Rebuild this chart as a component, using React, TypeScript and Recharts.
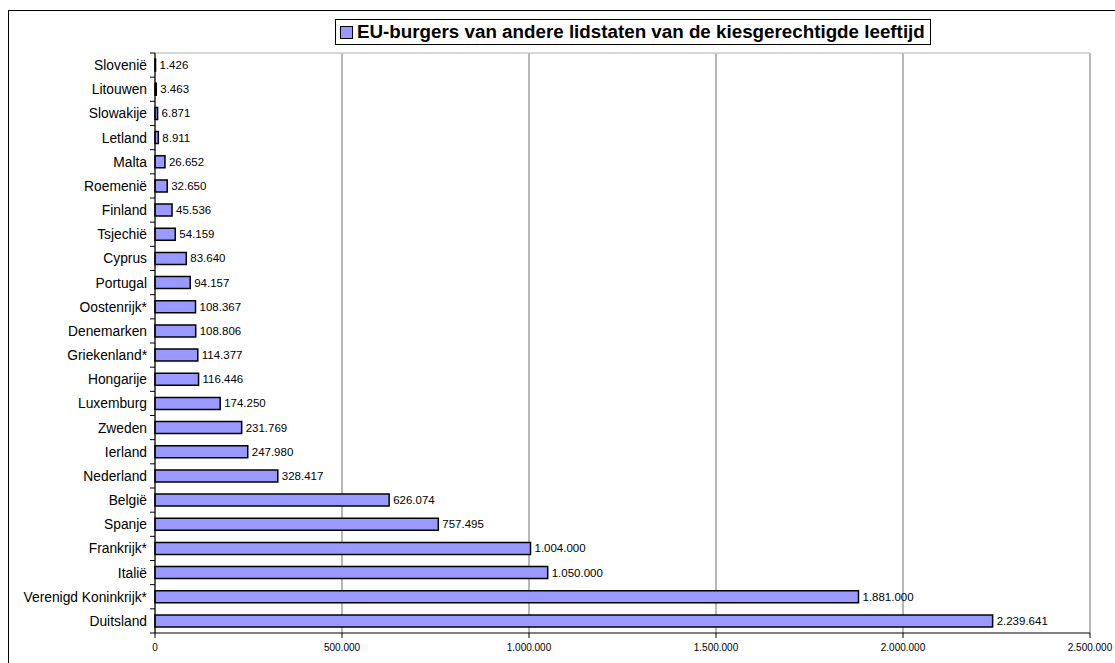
import React from 'react';
import { BarChart, Bar, XAxis, YAxis, CartesianGrid, LabelList } from 'recharts';

const countries = [
  'Slovenië', 'Litouwen', 'Slowakije', 'Letland', 'Malta', 'Roemenië', 'Finland', 'Tsjechië',
  'Cyprus', 'Portugal', 'Oostenrijk*', 'Denemarken', 'Griekenland*', 'Hongarije', 'Luxemburg',
  'Zweden', 'Ierland', 'Nederland', 'België', 'Spanje', 'Frankrijk*', 'Italië',
  'Verenigd Koninkrijk*', 'Duitsland',
];

const voters = [
  1426, 3463, 6871, 8911, 26652, 32650, 45536, 54159,
  83640, 94157, 108367, 108806, 114377, 116446, 174250,
  231769, 247980, 328417, 626074, 757495, 1004000, 1050000,
  1881000, 2239641,
];

const xTicks = [0, 500000, 1000000, 1500000, 2000000, 2500000];

const seriesName = 'EU-burgers van andere lidstaten van de kiesgerechtigde leeftijd';

const chartData = countries.map((name, i) => ({ name, value: voters[i] }));

// Nederlandse notatie: punt als duizendtalscheiding
const fmt = (v: number) => String(v).replace(/\B(?=(\d{3})+(?!\d))/g, '.');

const FONT = 'Arial, "Liberation Sans", sans-serif';

// Excel-achtige tickjes tussen de categorieën in
const CategoryTick = ({ x, y, payload, index }: any) => {
  const band = 580 / countries.length;
  return (
    <g>
      <line x1={155} x2={150} y1={y - band / 2} y2={y - band / 2} stroke="#000" />
      {index === countries.length - 1 && (
        <line x1={155} x2={150} y1={y + band / 2} y2={y + band / 2} stroke="#000" />
      )}
      <text x={x} y={y} dy={5} textAnchor="end" fontSize={13.8} fontFamily={FONT} fill="#000">
        {payload.value}
      </text>
    </g>
  );
};

export default function App() {
  return (
    <div style={{ position: 'absolute', left: 0, top: 0, width: 1115, height: 663, overflow: 'hidden', background: '#fff' }}>
      <div
        style={{
          position: 'absolute',
          left: 8,
          top: 10,
          width: 1130,
          height: 680,
          border: '1.5px solid #000',
          boxSizing: 'border-box',
        }}
      />
      <BarChart
        width={1115}
        height={663}
        data={chartData}
        layout="vertical"
        margin={{ top: 53, right: 25, left: 0, bottom: 0 }}
        barCategoryGap="25%"
        style={{ position: 'absolute', left: 0, top: 0 }}
      >
        <CartesianGrid horizontal={false} stroke="#707070" strokeWidth={1} />
        <CartesianGrid vertical={false} horizontalPoints={[53]} stroke="#c8c8c8" strokeWidth={1.5} />
        <XAxis
          type="number"
          domain={[0, 2500000]}
          ticks={xTicks}
          tickFormatter={fmt}
          height={30}
          stroke="#000"
          tickSize={5}
          tick={{ fontSize: 10, fontFamily: FONT, fill: '#000' }}
          tickMargin={6}
        />
        <YAxis
          type="category"
          dataKey="name"
          width={155}
          stroke="#000"
          tickLine={false}
          interval={0}
          tick={<CategoryTick />}
        />
        <Bar dataKey="value" name={seriesName} fill="#9999FF" stroke="#000" strokeWidth={1.5} isAnimationActive={false}>
          <LabelList
            dataKey="value"
            position="right"
            offset={4}
            formatter={(v: any) => fmt(Number(v))}
            style={{ fontSize: 11.5, fontFamily: FONT, fill: '#000' }}
          />
        </Bar>
      </BarChart>
      {/* legenda bovenaan, los van de grafiek geplaatst zoals in Excel */}
      <div
        style={{
          position: 'absolute',
          left: 335,
          top: 19,
          height: 26,
          display: 'flex',
          alignItems: 'center',
          border: '1.5px solid #000',
          boxSizing: 'border-box',
          background: '#fff',
          padding: '0 5px 0 4px',
          fontFamily: FONT,
          fontWeight: 'bold',
          fontSize: 18.8,
          color: '#000',
          whiteSpace: 'nowrap',
        }}
      >
        <span
          style={{
            display: 'inline-block',
            width: 11,
            height: 11,
            background: '#9999FF',
            border: '1.5px solid #000',
            marginRight: 4,
          }}
        />
        {seriesName}
      </div>
    </div>
  );
}
